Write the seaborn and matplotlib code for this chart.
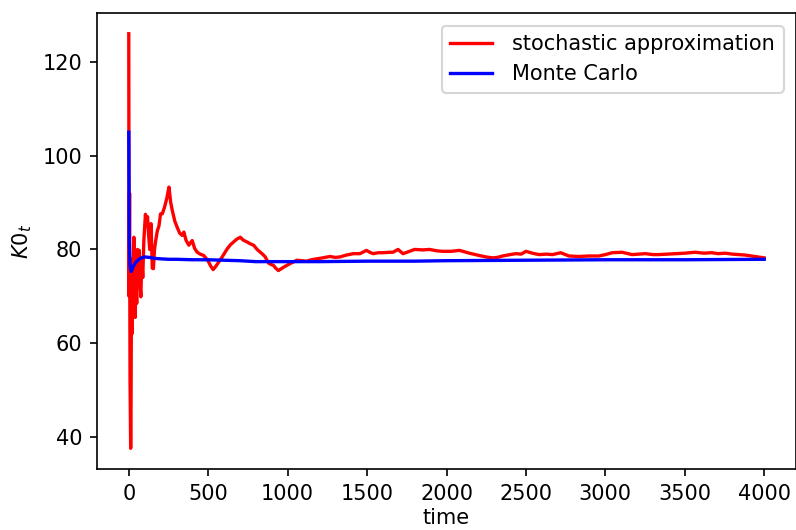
import matplotlib
matplotlib.use("Agg")
import matplotlib.pyplot as plt
import seaborn as sns
import pandas as pd

# stochastic approximation (red)
sa_time = [0, 2, 5, 8, 12, 14, 17, 20, 24, 27,
           32, 36, 40, 45, 50, 55, 60, 66, 72, 76,
           82, 88, 95, 105, 112, 118, 125, 132, 140, 148,
           155, 162, 170, 180, 190, 200, 211, 225, 240, 253,
           264, 274, 290, 305, 320, 336, 347, 360, 378, 390,
           399, 415, 431, 450, 472, 497, 515, 531, 550, 566,
           590, 619, 640, 660, 680, 702, 720, 744, 765, 786,
           808, 828, 845, 859, 880, 895, 911, 925, 942, 960,
           974, 995, 1016, 1040, 1058, 1090, 1120, 1150, 1183, 1220,
           1266, 1300, 1329, 1370, 1413, 1455, 1496, 1517, 1538, 1570,
           1601, 1643, 1663, 1695, 1726, 1760, 1799, 1850, 1893, 1940,
           1977, 2030, 2082, 2144, 2207, 2249, 2290, 2320, 2353, 2400,
           2437, 2470, 2500, 2540, 2583, 2630, 2667, 2719, 2771, 2834,
           2896, 2959, 3000, 3043, 3105, 3168, 3210, 3252, 3300, 3335,
           3390, 3440, 3500, 3565, 3620, 3670, 3710, 3754, 3800, 3837,
           3880, 3920, 3960, 4000]
sa_value = [126.0, 70.0, 92.0, 52.0, 37.6, 45.0, 72.0, 62.0, 78.0, 66.0,
            82.6, 70.0, 65.5, 74.0, 68.5, 80.0, 75.0, 79.8, 72.0, 69.9,
            78.0, 74.0, 82.0, 87.5, 85.0, 87.0, 83.0, 80.0, 85.5, 76.0,
            75.9, 80.0, 82.0, 84.0, 85.0, 87.6, 87.6, 89.0, 91.0, 93.3,
            90.0, 88.3, 86.0, 84.7, 83.5, 83.0, 83.7, 82.0, 80.9, 81.5,
            81.9, 80.2, 79.4, 79.0, 78.7, 77.7, 76.5, 75.7, 76.5, 77.3,
            78.5, 80.1, 81.0, 81.6, 82.2, 82.6, 82.0, 81.6, 81.2, 80.9,
            80.0, 79.4, 78.9, 78.4, 77.1, 76.8, 76.6, 76.0, 75.5, 75.9,
            76.2, 76.6, 77.0, 77.4, 77.7, 77.6, 77.5, 77.8, 78.0, 78.2,
            78.5, 78.3, 78.4, 78.8, 79.1, 79.1, 79.8, 79.4, 79.1, 79.3,
            79.3, 79.4, 79.4, 80.0, 79.1, 79.5, 80.0, 79.9, 80.0, 79.7,
            79.6, 79.6, 79.8, 79.2, 78.7, 78.4, 78.2, 78.3, 78.6, 78.9,
            79.1, 79.0, 79.6, 79.2, 78.9, 79.0, 78.9, 79.3, 78.6, 78.5,
            78.6, 78.6, 78.9, 79.3, 79.4, 78.9, 79.0, 79.1, 78.9, 78.9,
            79.0, 79.1, 79.2, 79.4, 79.2, 79.3, 79.1, 79.2, 79.0, 78.9,
            78.8, 78.6, 78.4, 78.2]

# Monte Carlo (blue)
mc_time = [0, 3, 8, 15, 22, 30, 45, 60, 80, 100,
           130, 160, 200, 250, 300, 400, 500, 600, 700, 800,
           900, 1000, 1200, 1500, 1800, 2000, 2500, 3000, 3500, 4000]
mc_value = [105.0, 82.0, 76.5, 75.3, 75.8, 76.5, 77.3, 77.8, 78.2, 78.4,
            78.3, 78.1, 78.0, 77.9, 77.9, 77.8, 77.8, 77.7, 77.6, 77.4,
            77.4, 77.4, 77.4, 77.5, 77.5, 77.6, 77.7, 77.8, 77.8, 77.9]

labels = ["stochastic approximation", "Monte Carlo"]

df_sa = pd.DataFrame({"time": sa_time, "value": sa_value})
df_mc = pd.DataFrame({"time": mc_time, "value": mc_value})

fig = plt.figure(figsize=(796 / 150, 530 / 150), dpi=150)
ax = fig.add_axes([97 / 796, 61 / 530, 699 / 796, 456 / 530])

sns.lineplot(data=df_sa, x="time", y="value", ax=ax, color="red",
             linewidth=1.6, label=labels[0])
sns.lineplot(data=df_mc, x="time", y="value", ax=ax, color="blue",
             linewidth=1.6, label=labels[1])

ax.set_xlabel("time", labelpad=2)
ax.set_ylabel("$K0_t$")
ax.set_xticks([0, 500, 1000, 1500, 2000, 2500, 3000, 3500, 4000])
ax.set_yticks([40, 60, 80, 100, 120])
ax.legend(loc="upper right", handletextpad=1.0, borderaxespad=0.6)

fig.savefig("out.png", dpi=150)
